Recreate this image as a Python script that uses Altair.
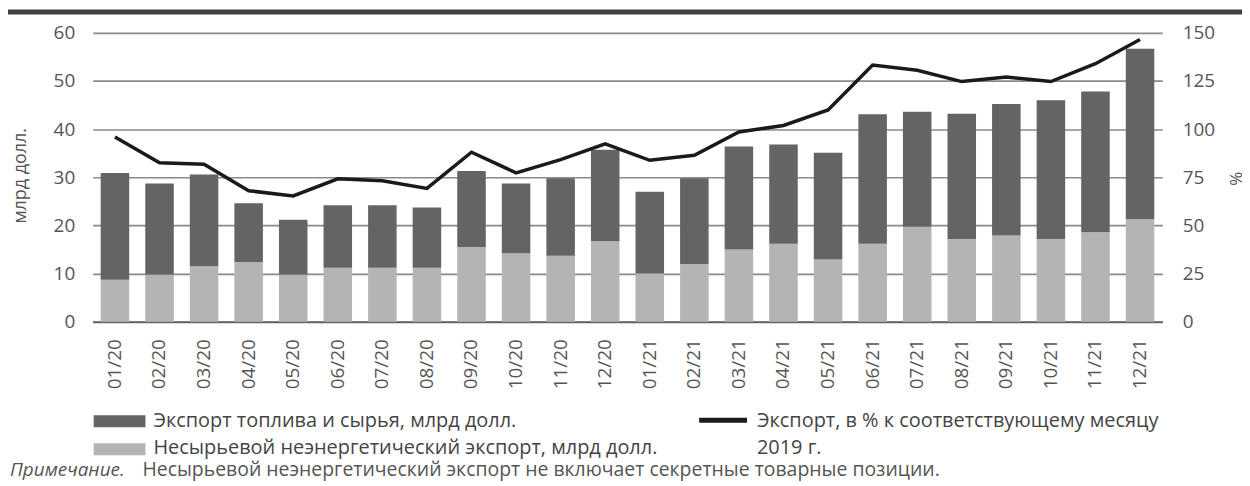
import altair as alt
import pandas as pd

months = ["01/20", "02/20", "03/20", "04/20", "05/20", "06/20", "07/20", "08/20",
          "09/20", "10/20", "11/20", "12/20", "01/21", "02/21", "03/21", "04/21",
          "05/21", "06/21", "07/21", "08/21", "09/21", "10/21", "11/21", "12/21"]
# Экспорт топлива и сырья, млрд долл.
fuel = [22.2, 18.9, 19.1, 12.2, 11.4, 13.0, 13.0, 12.5, 15.8, 14.5, 16.1, 19.0,
        17.0, 17.8, 21.4, 20.6, 22.2, 26.9, 23.9, 26.0, 27.3, 28.8, 29.2, 35.4]
# Несырьевой неэнергетический экспорт, млрд долл.
nonfuel = [8.7, 9.8, 11.5, 12.4, 9.8, 11.2, 11.2, 11.2, 15.5, 14.2, 13.7, 16.7,
           10.0, 12.0, 15.0, 16.2, 12.9, 16.2, 19.7, 17.2, 17.9, 17.2, 18.6, 21.3]
# Экспорт, в % к соответствующему месяцу 2019 г.
pct = [95.9, 82.5, 81.8, 68.0, 65.3, 74.2, 73.2, 69.2, 88.0, 77.3, 84.2, 92.4,
       83.8, 86.4, 98.5, 101.9, 110.0, 133.3, 130.6, 124.7, 127.1, 124.7, 134.0, 146.6]

left_ticks = [0, 10, 20, 30, 40, 50, 60]
right_ticks = [0, 25, 50, 75, 100, 125, 150]

FONT = "Open Sans"
DARK = "#646464"
LIGHT = "#b4b4b4"

rows = []
for i, m in enumerate(months):
    rows.append({"month": m, "series": "nonfuel", "value": nonfuel[i], "ord": 0})
    rows.append({"month": m, "series": "fuel", "value": fuel[i], "ord": 1})
bars_df = pd.DataFrame(rows)
line_df = pd.DataFrame({"month": months, "pct": pct})
one = pd.DataFrame({"a": [0]})

x_enc = alt.X(
    "month:N", sort=months,
    scale=alt.Scale(paddingInner=0.36, paddingOuter=0.18),
    axis=alt.Axis(title=None, labelAngle=-90, labelAlign="right", labelBaseline="middle",
                  labelPadding=17, ticks=False, domain=True, domainColor="#666666",
                  domainWidth=2, labelFontSize=19, labelColor="#555555", labelFont=FONT),
)

bars = alt.Chart(bars_df).mark_bar().encode(
    x=x_enc,
    y=alt.Y("value:Q", stack="zero", scale=alt.Scale(domain=[0, 60]),
            axis=alt.Axis(values=left_ticks, title="млрд долл.", grid=True,
                          gridColor="#8a8a8a", gridWidth=1.6, domain=False, ticks=False,
                          labelPadding=18, labelFontSize=19, labelColor="#555555",
                          labelFont=FONT, titleFont=FONT, titleFontSize=18,
                          titleFontWeight="normal", titleColor="#555555",
                          titleAngle=-90, titleX=-72, titleY=143,
                          titleAlign="center", titleBaseline="middle")),
    color=alt.Color("series:N", scale=alt.Scale(domain=["fuel", "nonfuel"], range=[DARK, LIGHT]),
                    legend=None),
    order=alt.Order("ord:Q"),
)

line = alt.Chart(line_df).mark_line(color="#1a1a1a", strokeWidth=3.5).encode(
    x=x_enc,
    y=alt.Y("pct:Q", scale=alt.Scale(domain=[0, 150]),
            axis=alt.Axis(orient="right", values=right_ticks, title="%", grid=False,
                          domain=False, ticks=False, labelPadding=20, labelFontSize=19,
                          labelColor="#555555", labelFont=FONT, titleFont=FONT,
                          titleFontSize=17, titleFontWeight="normal", titleColor="#555555",
                          titleAngle=90, titleX=72, titleY=146,
                          titleAlign="center", titleBaseline="middle")),
)

top_rule = alt.Chart(one).mark_rule(color="#404040", strokeWidth=5).encode(
    x=alt.value(-85), x2=alt.value(1154), y=alt.value(-21))

sw_dark = alt.Chart(one).mark_rect(color=DARK).encode(
    x=alt.value(1), x2=alt.value(53), y=alt.value(384), y2=alt.value(396))
sw_light = alt.Chart(one).mark_rect(color=LIGHT).encode(
    x=alt.value(1), x2=alt.value(53), y=alt.value(412), y2=alt.value(424))
sw_line = alt.Chart(one).mark_rule(color="#1a1a1a", strokeWidth=5).encode(
    x=alt.value(609), x2=alt.value(657), y=alt.value(389))

def label(txt, xv, yv, italic=False, color="#444444", size=20):
    return alt.Chart(one).mark_text(
        text=txt, align="left", baseline="middle", font=FONT, fontSize=size,
        color=color, fontStyle="italic" if italic else "normal",
    ).encode(x=alt.value(xv), y=alt.value(yv))

texts = [
    label("Экспорт топлива и сырья, млрд долл.", 61, 390),
    label("Несырьевой неэнергетический экспорт, млрд долл.", 61, 417),
    label("Экспорт, в % к соответствующему месяцу", 667, 390),
    label("2019 г.", 667, 417),
    label("Примечание.", -83, 439, italic=True, color="#555555", size=19),
    label("Несырьевой неэнергетический экспорт не включает секретные товарные позиции.", 50, 439,
          color="#555555", size=19.5),
]

chart = alt.layer(bars, line, top_rule, sw_dark, sw_light, sw_line, *texts).resolve_scale(
    y="independent"
).properties(
    width=1074, height=290,
    autosize=alt.AutoSizeParams(type="none"),
    padding={"left": 85, "top": 24, "right": 80, "bottom": 160},
    background="white",
).configure_view(stroke=None)

chart.save("out.html", embed_options={"renderer": "svg", "actions": False})
